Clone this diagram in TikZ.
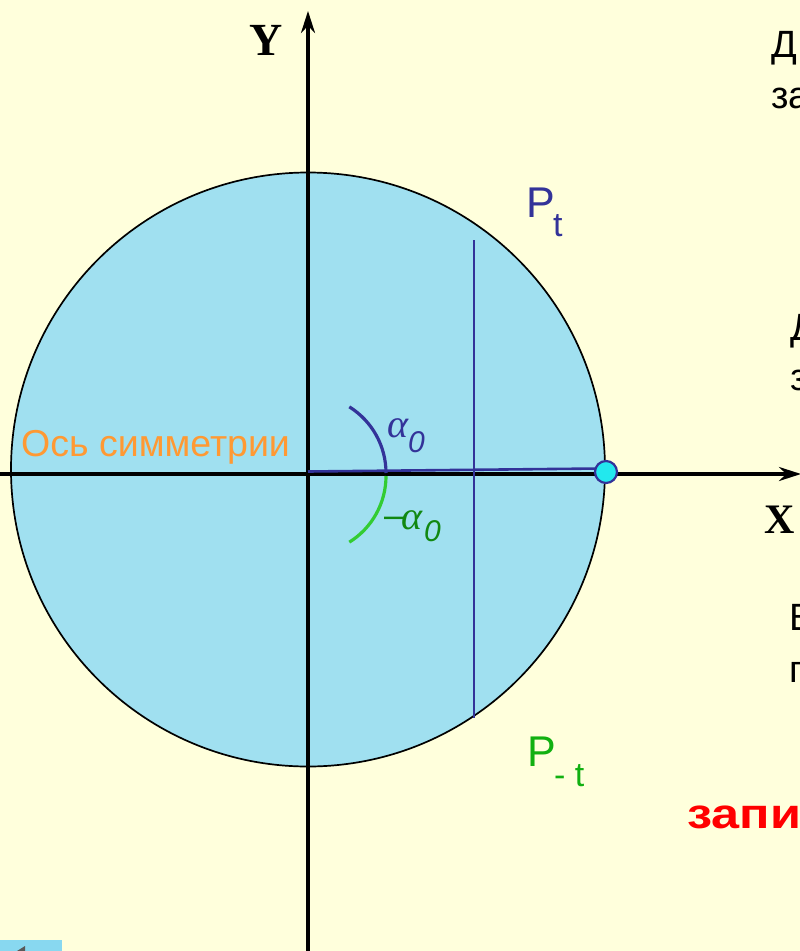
\documentclass[tikz,border=0pt]{standalone}
\usepackage{fontspec}
\setmainfont{Liberation Sans}
\newfontfamily\serifR{Liberation Serif}
\usetikzlibrary{arrows.meta}
\definecolor{bgY}{HTML}{FFFFDC}
\definecolor{discB}{HTML}{A0E0F0}
\definecolor{dkblue}{HTML}{333399}
\definecolor{ltgreen}{HTML}{33CC33}
\definecolor{pgreen}{HTML}{11B011}
\definecolor{dkgreen}{HTML}{118811}
\definecolor{orng}{HTML}{FF9933}
\definecolor{ptcyan}{HTML}{22E8EE}
\definecolor{btn}{HTML}{88D8F0}
\tikzset{
  axis/.style={line width=3.2pt,-{Stealth[length=22pt,width=14pt]}},
  txt/.style={inner sep=0pt,anchor=base west}
}
\begin{document}
\begin{tikzpicture}[x=1pt,y=-1pt]
\clip (0,0) rectangle (800,951);
\fill[bgY] (0,0) rectangle (800,951);
% disc
\coordinate (O) at (308,469.5);
\filldraw[fill=discB,draw=black,line width=1.7pt] (O) circle (297);
% axes
\coordinate (xs) at (0,474);
\coordinate (xe) at (801,474);
\coordinate (ys) at (308,951);
\coordinate (ye) at (308,11);
\draw[axis] (xs) -- (xe);
\draw[axis] (ys) -- (ye);
% vertical chord
\coordinate (c1) at (474,240);
\coordinate (c2) at (474,718);
\draw[dkblue,line width=2pt] (c1) -- (c2);
% radius
\coordinate (r0) at (308,471.5);
\coordinate (r1) at (600,468.5);
\draw[dkblue,line width=2.6pt] (r0) -- (r1);
% arcs
\draw[dkblue,line width=3.2pt] (386,473) arc[start angle=0,end angle=-58,radius=78];
\draw[ltgreen,line width=3.2pt] (386,476) arc[start angle=0,end angle=58,radius=78];
% point
\node[circle,fill=ptcyan,draw=dkblue,line width=2.2pt,minimum size=22pt,inner sep=0pt] (pt) at (606,472) {};
% labels
\node[txt,font=\serifR\bfseries\fontsize{46}{46}\selectfont] (Y) at (249,55) {Y};
\node[txt,font=\serifR\bfseries\fontsize{42}{42}\selectfont] (X) at (764,533) {X};
\node[txt,font=\fontsize{37.5}{37.5}\selectfont,text=orng] (axl) at (21,456) {Ось симметрии};
\node[txt,font=\fontsize{43}{43}\selectfont,text=dkblue] (Pt) at (526,217) {P};
\node[txt,font=\fontsize{34}{34}\selectfont,text=dkblue] (Ptt) at (553,236) {t};
\node[txt,font=\fontsize{43}{43}\selectfont,text=pgreen] (Pm) at (527,766) {P};
\node[txt,font=\fontsize{34}{34}\selectfont,text=pgreen] (Pmt) at (554,786) {- t};
\node[txt,font=\serifR\itshape\fontsize{40}{40}\selectfont,text=dkblue] (a1) at (387,437) {α};
\node[txt,font=\itshape\fontsize{30}{30}\selectfont,text=dkblue] (a1s) at (408,452) {0};
\node[txt,font=\fontsize{36}{36}\selectfont,text=dkgreen] (m2) at (384,527) {–};
\node[txt,font=\serifR\itshape\fontsize{40}{40}\selectfont,text=dkgreen] (a2) at (401,529) {α};
\node[txt,font=\itshape\fontsize{30}{30}\selectfont,text=dkgreen] (a2s) at (424,541) {0};
% right-edge texts (cut by the frame, as in the reference)
\node[txt,font=\fontsize{38}{38}\selectfont] (t1) at (771,57) {Д};
\node[txt,font=\fontsize{38}{38}\selectfont] (t2) at (771,108) {за};
\node[txt,font=\fontsize{38}{38}\selectfont] (t3) at (790,340) {Д};
\node[txt,font=\fontsize{38}{38}\selectfont] (t4) at (790,390) {з};
\node[txt,font=\fontsize{38}{38}\selectfont] (t5) at (789,630) {В};
\node[txt,font=\fontsize{38}{38}\selectfont] (t6) at (789,682) {п};
\node[txt,font=\bfseries\fontsize{42}{42}\selectfont,text=red] (t7) at (687,828) {\scalebox{1.2}[1]{запи}};
% nav button
\fill[btn] (0,940) rectangle (62,951);
\fill[gray!70!black] (17,951) -- (25,946) -- (25,951) -- cycle;
\end{tikzpicture}
\end{document}
